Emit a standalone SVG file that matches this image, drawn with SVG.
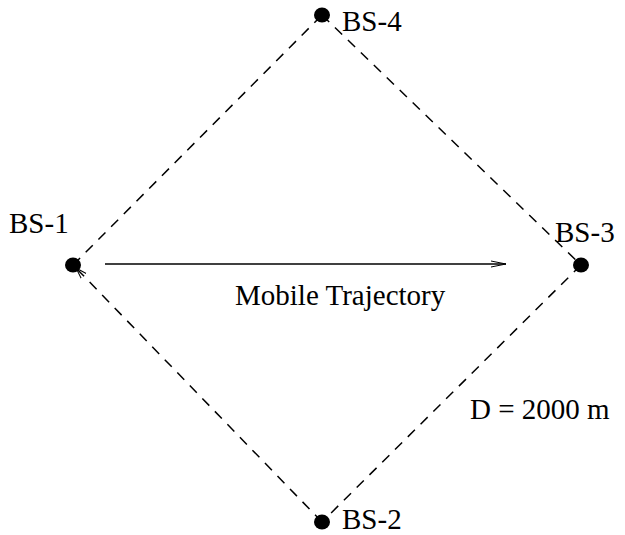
<svg xmlns="http://www.w3.org/2000/svg" width="625" height="535" viewBox="0 0 625 535">
<style>
.t{font-family:"Liberation Serif",serif;font-size:29px;fill:#000}
.d{stroke:#000;stroke-width:1.5;stroke-dasharray:10 8;fill:none}
.n{fill:#000}
</style>
<defs>
<marker id="ah" markerWidth="16" markerHeight="10" refX="15" refY="5" orient="auto" markerUnits="userSpaceOnUse">
<path d="M0,2 L15,5 L0,8" fill="none" stroke="#000" stroke-width="1"/>
</marker>
<marker id="ah2" markerWidth="12" markerHeight="10" refX="11" refY="5" orient="auto" markerUnits="userSpaceOnUse">
<path d="M0,1.5 L11,5 L0,8.5" fill="none" stroke="#000" stroke-width="1"/>
</marker>
</defs>
<rect width="625" height="535" fill="#fff"/>
<g id="connectors">
<line class="d" x1="73" y1="265" x2="322" y2="15"/>
<line class="d" x1="322" y1="15" x2="581" y2="265"/>
<line class="d" x1="581" y1="265" x2="322" y2="522"/>
<line class="d" x1="322" y1="522" x2="76" y2="268" marker-end="url(#ah2)"/>
<line x1="105" y1="264" x2="506" y2="264" stroke="#000" stroke-width="1.5" marker-end="url(#ah)"/>
</g>
<g id="bs1"><ellipse class="n" cx="73" cy="265" rx="8" ry="7.5"/><text class="t" x="9" y="233">BS-1</text></g>
<g id="bs2"><ellipse class="n" cx="322" cy="522" rx="8" ry="7.5"/><text class="t" x="342" y="529">BS-2</text></g>
<g id="bs3"><ellipse class="n" cx="581" cy="265" rx="8" ry="7.5"/><text class="t" x="555" y="242">BS-3</text></g>
<g id="bs4"><ellipse class="n" cx="322" cy="15" rx="8" ry="7.5"/><text class="t" x="342" y="31">BS-4</text></g>
<text class="t" x="235" y="305">Mobile Trajectory</text>
<text class="t" x="470" y="419">D = 2000 m</text>
</svg>
